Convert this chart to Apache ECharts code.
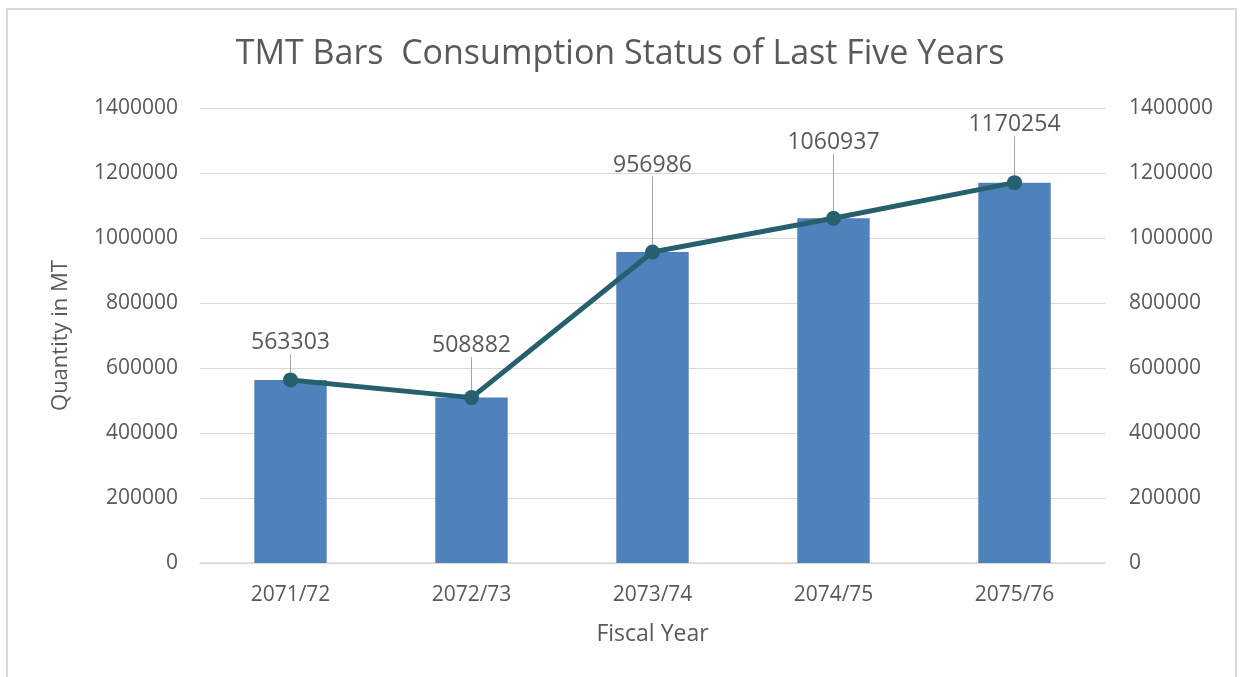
<!DOCTYPE html>
<html>
<head>
<meta charset="utf-8">
<script src="https://cdn.jsdelivr.net/npm/echarts@6/dist/echarts.min.js"></script>
<style>
  html, body { margin: 0; padding: 0; background: #fff; }
  #chart { width: 1240px; height: 677px; }
</style>
</head>
<body>
<div id="chart"></div>
<script>
// fiscal years and consumption (MT)
var years = ['2071/72', '2072/73', '2073/74', '2074/75', '2075/76'];
var quantity = [563303, 508882, 956986, 1060937, 1170254];
var labelLift = [13, 28, 63, 52, 34]; // how far each data label is pulled up

var textColor = '#595959';
var font = '"Open Sans", sans-serif';

function plainNum(v) {
    return String(v); // no thousands separators
}

var chart = echarts.init(document.getElementById('chart'));
var option = {
    backgroundColor: '#fff',
    animation: false,
    textStyle: { fontFamily: font, color: textColor },
    title: {
        text: 'TMT Bars  Consumption Status of Last Five Years',
        left: 'center',
        top: 32,
        textStyle: { fontFamily: font, fontSize: 34, fontWeight: 'normal', color: textColor }
    },
    graphic: [{
        type: 'rect',
        shape: { x: 7, y: 9, width: 1229, height: 720 },
        style: { fill: 'none', stroke: '#d9d9d9', lineWidth: 2 },
        silent: true
    }],
    grid: { left: 200, right: 135, top: 108, bottom: 114 },
    xAxis: {
        type: 'category',
        data: years,
        name: 'Fiscal Year',
        nameLocation: 'middle',
        nameGap: 60,
        nameTextStyle: { fontSize: 23, color: textColor, fontFamily: font },
        axisLine: { lineStyle: { color: '#d9d9d9', width: 1.5 } },
        axisTick: { show: false },
        axisLabel: { margin: 22, fontSize: 21, color: textColor, fontFamily: font }
    },
    yAxis: [{
        type: 'value',
        min: 0, max: 1400000, interval: 200000,
        name: 'Quantity in MT',
        nameLocation: 'middle',
        nameGap: 128,
        nameTextStyle: { fontSize: 22, color: textColor, fontFamily: font },
        axisLine: { show: false },
        axisTick: { show: false },
        axisLabel: { margin: 22, fontSize: 21, color: textColor, fontFamily: font, formatter: plainNum },
        splitLine: { lineStyle: { color: '#d9d9d9', width: 1 } }
    }, {
        type: 'value',
        min: 0, max: 1400000, interval: 200000,
        position: 'right',
        axisLine: { show: false },
        axisTick: { show: false },
        axisLabel: { margin: 24, fontSize: 21, color: textColor, fontFamily: font, formatter: plainNum },
        splitLine: { show: false }
    }],
    series: [{
        name: 'Quantity',
        type: 'bar',
        data: quantity,
        barWidth: '40%',
        itemStyle: { color: '#4f81bd' }
    }, {
        name: 'Trend',
        type: 'line',
        yAxisIndex: 1,
        data: quantity,
        symbol: 'circle',
        symbolSize: 15,
        lineStyle: { color: '#26606e', width: 5 },
        itemStyle: { color: '#26606e' },
        label: {
            show: true,
            position: 'top',
            fontSize: 23,
            color: textColor,
            fontFamily: font
        },
        labelLine: { show: true, lineStyle: { color: '#a6a6a6', width: 1 } },
        labelLayout: function (p) {
            return { dy: -labelLift[p.dataIndex] };
        },
        z: 5
    }]
};
chart.setOption(option);
</script>
</body>
</html>
